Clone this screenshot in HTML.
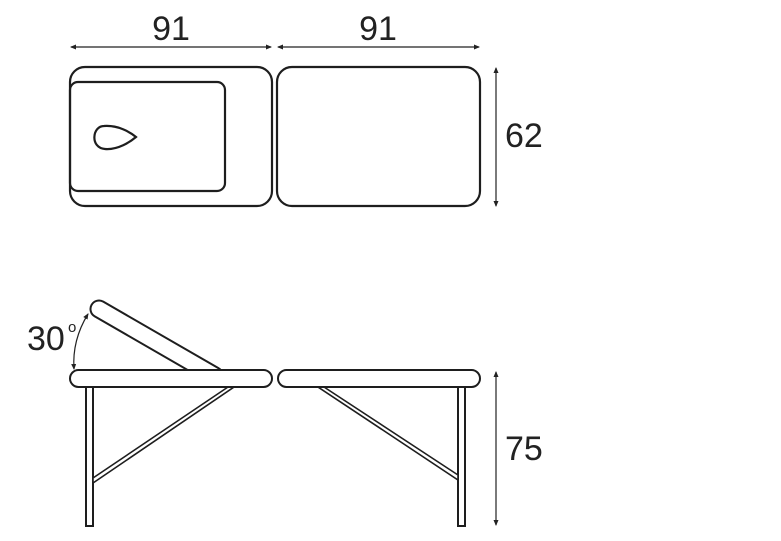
<!DOCTYPE html>
<html><head><style>body{margin:0;background:#fff}svg{display:block}</style></head><body>
<svg width="781" height="541" viewBox="0 0 781 541" xmlns="http://www.w3.org/2000/svg">
<defs><marker id="a" markerWidth="6" markerHeight="6" refX="5" refY="3" orient="auto-start-reverse" markerUnits="userSpaceOnUse"><path d="M0,0.5 L6,3 L0,5.5z" fill="#222"/></marker></defs>
<g fill="none" stroke="#1e1e1e" stroke-width="2.2">
<rect x="70" y="67" width="202" height="139" rx="15"/>
<rect x="70" y="82" width="155" height="109" rx="8"/>
<path d="M104,126 C92,126 90,148 105,149 C118,150 130,142 136,137 C130,132 118,125 104,126z"/>
<rect x="277" y="67" width="203" height="139" rx="15"/>
</g>
<g stroke="#222" stroke-width="1.2" fill="none">
<line x1="71" y1="47" x2="271" y2="47" marker-start="url(#a)" marker-end="url(#a)"/>
<line x1="278" y1="47" x2="479" y2="47" marker-start="url(#a)" marker-end="url(#a)"/>
<line x1="496" y1="68" x2="496" y2="206" marker-start="url(#a)" marker-end="url(#a)"/>
<line x1="496" y1="372" x2="496" y2="525" marker-start="url(#a)" marker-end="url(#a)"/>
<path d="M74,369 Q72,340 88,314" marker-start="url(#a)" marker-end="url(#a)"/>
</g>
<g fill="#fff" stroke="#1e1e1e" stroke-width="2">
<rect x="-8.5" y="-8.5" width="150" height="17" rx="8.5" transform="translate(99,309) rotate(30)"/>
<rect x="86" y="385" width="7" height="141"/>
<rect x="458" y="385" width="7" height="141"/>
<polygon points="93,478 228,387 234,387 93,483" stroke-width="1.6"/>
<polygon points="318,387 324,387 458,475 458,480" stroke-width="1.6"/>
<rect x="70" y="370" width="202" height="17" rx="8.5"/>
<rect x="278" y="370" width="202" height="17" rx="8.5"/>
</g>
<g font-family="Liberation Sans, sans-serif" font-size="34" fill="#222">
<text x="171" y="40" text-anchor="middle">91</text>
<text x="378" y="40" text-anchor="middle">91</text>
<text x="505" y="147">62</text>
<text x="505" y="460">75</text>
<text x="27" y="350">30</text>
<text x="68" y="332" font-size="15">o</text>
</g>
</svg>
</body></html>
